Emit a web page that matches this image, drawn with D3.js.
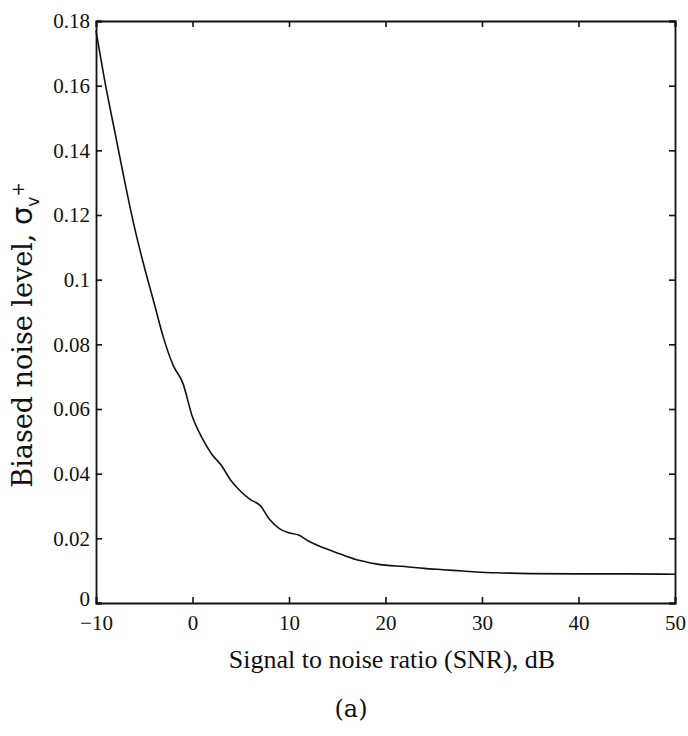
<!DOCTYPE html>
<html>
<head>
<meta charset="utf-8">
<script src="https://cdn.jsdelivr.net/npm/d3@7"></script>
<style>
  body { margin: 0; background: #fff; }
  svg { display: block; }
  .tick-label { font-family: "Liberation Serif", "Times New Roman", Times, serif; font-size: 21px; fill: #111; }
</style>
</head>
<body>
<div id="chart"></div>
<script>
// data
const snrValues = [-10, -9, -8, -7, -6, -5, -4, -3, -2, -1, 0, 1, 2, 3, 4, 5, 6, 7, 8, 9, 10,
  11, 12, 13, 14, 15, 16, 17, 18, 19, 20, 22, 24, 26, 28, 30, 32, 35, 40, 45, 50];
const noiseLevel = [0.177, 0.160, 0.145, 0.130, 0.116, 0.104, 0.093, 0.082, 0.0735, 0.068, 0.0575,
  0.051, 0.046, 0.0425, 0.0378, 0.0345, 0.032, 0.0302, 0.0258, 0.0230, 0.0217,
  0.0210, 0.0192, 0.0178, 0.0166, 0.0155, 0.0144, 0.0134, 0.0127, 0.0121, 0.0117,
  0.0113, 0.0107, 0.0103, 0.0099, 0.0095, 0.0093, 0.0091, 0.0090, 0.0090, 0.0089];
const xTicks = [-10, 0, 10, 20, 30, 40, 50];
const yTicks = [0, 0.02, 0.04, 0.06, 0.08, 0.1, 0.12, 0.14, 0.16, 0.18];

const width = 688, height = 736;
const margin = { top: 21, right: 13, bottom: 133, left: 96 };

const svg = d3.select("#chart").append("svg")
  .attr("width", width)
  .attr("height", height);

const x = d3.scaleLinear()
  .domain([-10, 50])
  .range([margin.left, width - margin.right]);

const y = d3.scaleLinear()
  .domain([0, 0.18])
  .range([height - margin.bottom, margin.top]);

const fmtX = (d) => (d < 0 ? "\u2212" + Math.abs(d) : String(d));
const fmtY = (d) => (d === 0 ? "0" : String(+d.toFixed(2)));

// inward ticks on all four sides, matlab style
const tickLen = 6;
const axes = [
  { axis: d3.axisBottom(x).tickValues(xTicks).tickSize(-tickLen).tickPadding(12).tickFormat(fmtX),
    pos: `translate(0, ${y(0)})` },
  { axis: d3.axisTop(x).tickValues(xTicks).tickSize(-tickLen).tickFormat(""),
    pos: `translate(0, ${y(0.18)})` },
  { axis: d3.axisLeft(y).tickValues(yTicks).tickSize(-tickLen).tickPadding(6).tickFormat(fmtY),
    pos: `translate(${x(-10)}, 0)` },
  { axis: d3.axisRight(y).tickValues(yTicks).tickSize(-tickLen).tickFormat(""),
    pos: `translate(${x(50)}, 0)` }
];

axes.forEach((a) => {
  const g = svg.append("g")
    .attr("class", "axis")
    .attr("transform", a.pos)
    .call(a.axis);
  g.attr("font-family", null).attr("font-size", null);
  g.select(".domain").attr("stroke", "#111").attr("stroke-width", 1.8);
  g.selectAll(".tick line").attr("stroke", "#111").attr("stroke-width", 1.6);
  g.selectAll("text").attr("class", "tick-label");
});

// lift the y "0" a bit, it sits right above the -10 like in the scan
svg.selectAll(".tick-label").filter((d) => d === 0 && yTicks.includes(d))
  .filter(function () { return this.getAttribute("x") !== null && +this.getAttribute("x") < 0; })
  .attr("dy", "0.1em");

// curve
const line = d3.line()
  .curve(d3.curveMonotoneX)
  .x((d, i) => x(snrValues[i]))
  .y((d) => y(d));

svg.append("path")
  .datum(noiseLevel)
  .attr("fill", "none")
  .attr("stroke", "#111")
  .attr("stroke-width", 1.6)
  .attr("stroke-linejoin", "round")
  .attr("d", line);

// x axis title
svg.append("text")
  .attr("x", 392)
  .attr("y", 668)
  .attr("text-anchor", "middle")
  .attr("class", "tick-label")
  .style("font-size", "26px")
  .text("Signal to noise ratio (SNR), dB");

// y axis title with sigma sub v sup +
const yTitle = svg.append("text")
  .attr("transform", "translate(32, 335) rotate(-90)")
  .attr("text-anchor", "middle")
  .style("font-family", "'DejaVu Serif', serif")
  .style("font-size", "27px")
  .attr("fill", "#111");
yTitle.append("tspan").text("Biased noise level, ");
yTitle.append("tspan").style("font-family", "'DejaVu Sans', sans-serif").style("font-size", "29px").text("\u03c3");
yTitle.append("tspan").attr("dy", 7).style("font-size", "17px")
  .style("font-family", "'DejaVu Sans', sans-serif").text("v");
yTitle.append("tspan").attr("dy", -15).style("font-size", "17px")
  .style("font-family", "'DejaVu Sans', sans-serif").text("+");

// panel caption
svg.append("text")
  .attr("x", 351)
  .attr("y", 717)
  .attr("text-anchor", "middle")
  .style("font-family", "'DejaVu Serif', serif")
  .style("font-size", "24px")
  .attr("fill", "#111")
  .text("(a)");
</script>
</body>
</html>
